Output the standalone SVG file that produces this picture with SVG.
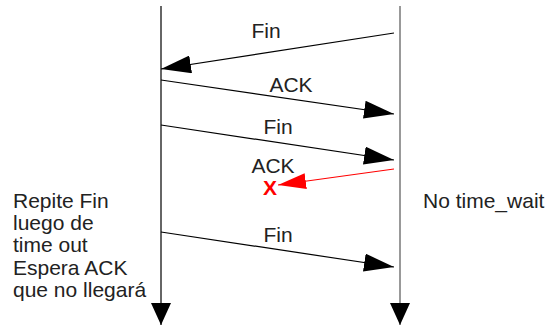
<svg xmlns="http://www.w3.org/2000/svg" width="547" height="325" viewBox="0 0 547 325">
<style>
text{font-family:"Liberation Sans",Arial,sans-serif;font-size:21px;fill:#222}
.msg{stroke:#000;stroke-width:1.2;fill:none}
.red{stroke:#f00;stroke-width:1.2;fill:none}
.x{fill:#f00;font-weight:bold}
</style>
<defs>
<marker id="ah" markerUnits="userSpaceOnUse" markerWidth="30" markerHeight="18" refX="30" refY="9" orient="auto" viewBox="0 0 30 18"><path d="M0,0 L30,9 L0,18 z" fill="#000"/></marker>
<marker id="ahr" markerUnits="userSpaceOnUse" markerWidth="28" markerHeight="16" refX="28" refY="8" orient="auto" viewBox="0 0 28 16"><path d="M0,0 L28,8 L0,16 z" fill="#f00"/></marker>
<marker id="ahd" markerUnits="userSpaceOnUse" markerWidth="22" markerHeight="20" refX="22" refY="10" orient="auto" viewBox="0 0 22 20"><path d="M0,0 L22,10 L0,20 z" fill="#000"/></marker>
</defs>
<g id="lifeline-left"><line x1="161" y1="6" x2="161" y2="325" stroke="#333" stroke-width="1.5" marker-end="url(#ahd)"/></g>
<g id="lifeline-right"><line x1="400" y1="6" x2="400" y2="325" stroke="#777" stroke-width="1.5" marker-end="url(#ahd)"/></g>
<g id="connectors">
<line class="msg" x1="394" y1="33" x2="161" y2="69" marker-end="url(#ah)"/>
<line class="msg" x1="161" y1="80" x2="394" y2="114" marker-end="url(#ah)"/>
<line class="msg" x1="161" y1="125" x2="394" y2="160" marker-end="url(#ah)"/>
<line class="red" x1="394" y1="169" x2="278" y2="185" marker-end="url(#ahr)"/>
<line class="msg" x1="161" y1="232" x2="394" y2="267" marker-end="url(#ah)"/>
</g>
<g id="labels">
<text x="266" y="38" text-anchor="middle">Fin</text>
<text x="291" y="92" text-anchor="middle">ACK</text>
<text x="278" y="134" text-anchor="middle">Fin</text>
<text x="273" y="173" text-anchor="middle">ACK</text>
<text class="x" x="270" y="195" text-anchor="middle">X</text>
<text x="278" y="242" text-anchor="middle">Fin</text>
</g>
<g id="note-left">
<text x="13" y="208">Repite Fin</text>
<text x="13" y="230">luego de</text>
<text x="13" y="252">time out</text>
<text x="13" y="275">Espera ACK</text>
<text x="13" y="297">que no llegará</text>
</g>
<g id="note-right"><text x="423" y="208">No time_wait</text></g>
</svg>
